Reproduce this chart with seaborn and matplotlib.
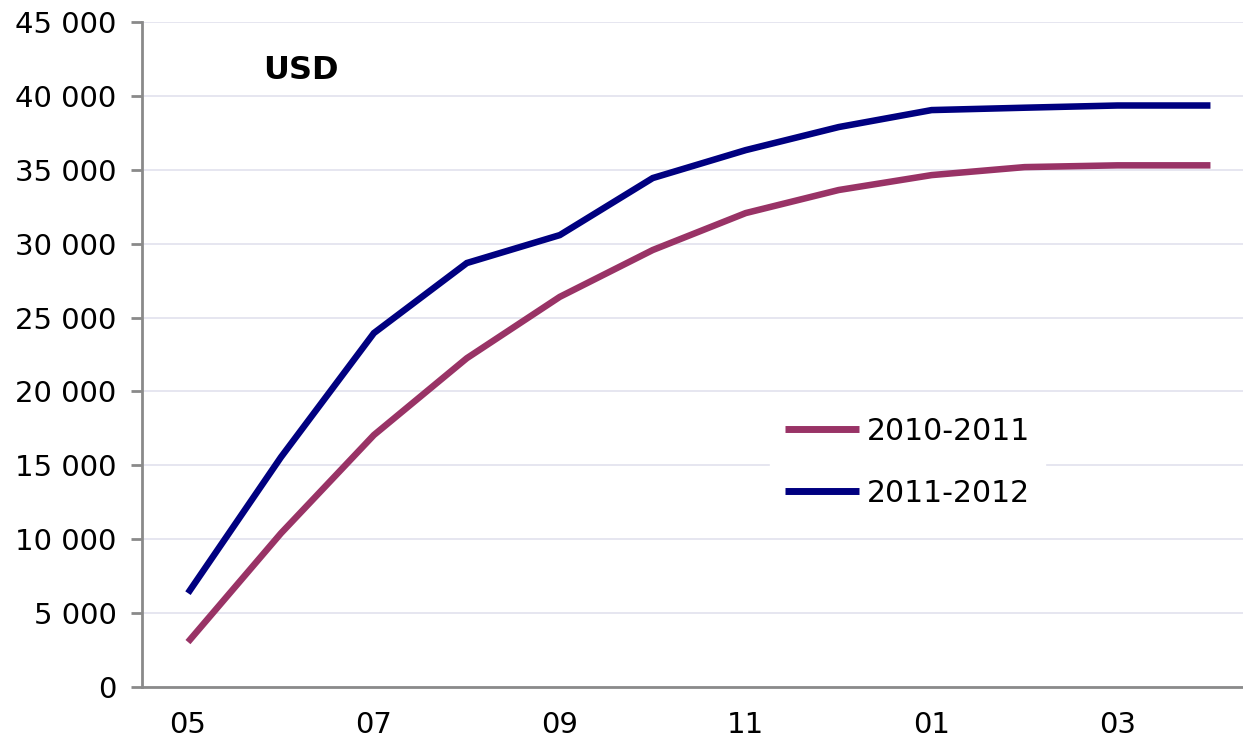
import numpy as np
import pandas as pd
import seaborn as sns
import matplotlib
matplotlib.use("Agg")
import matplotlib.pyplot as plt
from matplotlib.ticker import FuncFormatter, FixedLocator

# months of the fiscal year, May .. April
months = ["05", "06", "07", "08", "09", "10", "11", "12", "01", "02", "03", "04"]
tick_labels = ["05", "07", "09", "11", "01", "03"]

s2010 = [3040, 10400, 17050, 22250, 26400, 29570, 32070, 33630, 34640, 35180, 35300, 35300]
s2011 = [6350, 15550, 23950, 28690, 30580, 34440, 36330, 37890, 39040, 39200, 39350, 39350]

series_names = ["2010-2011", "2011-2012"]
colors = ["#993366", "#000080"]

df = pd.DataFrame({
    "pos": list(range(len(months))) * 2,
    "value": s2010 + s2011,
    "series": [series_names[0]] * len(months) + [series_names[1]] * len(months),
})

sns.set_style("white")
plt.rcParams['font.family'] = ['DejaVu Sans']
plt.rcParams['text.color'] = 'black'
plt.rcParams['xtick.labelcolor'] = 'black'
plt.rcParams['ytick.labelcolor'] = 'black'

fig = plt.figure(figsize=(12.43, 7.43), dpi=100)
ax = fig.add_axes([141.5 / 1243, 56 / 743, 1 - 141.5 / 1243, 665 / 743])

sns.lineplot(data=df, x="pos", y="value", hue="series", palette=colors,
             linewidth=4.7, ax=ax, legend=True)
for ln in ax.lines:
    ln.set_solid_capstyle("butt")
    ln.set_solid_joinstyle("miter")

ax.set_xlim(-0.5, 11.35)
ax.set_ylim(0, 45000)
ax.set_yticks(np.arange(0, 45001, 5000))
ax.yaxis.set_major_formatter(FuncFormatter(lambda v, p: f"{int(v):,}".replace(",", " ")))
ax.grid(axis="y", color="#e2e2ee", linewidth=1.2)
ax.set_axisbelow(True)

ax.set_xticks(range(0, 12, 2))
ax.set_xticklabels(tick_labels)
ax.xaxis.set_minor_locator(FixedLocator([-0.5, 1.5, 3.5, 5.5, 7.5, 9.5]))
ax.tick_params(axis="x", which="major", length=0, pad=17, labelsize=21, labelcolor="black")
ax.tick_params(axis="x", which="minor", length=7, width=2, color="#8a8a8a", direction="out")
ax.tick_params(axis="y", length=8, width=2, color="#8a8a8a", direction="out", pad=10,
               labelsize=21, left=True, labelcolor="black")
ax.set_xlabel("")
ax.set_ylabel("")

for side in ["top", "right"]:
    ax.spines[side].set_visible(False)
for side in ["left", "bottom"]:
    ax.spines[side].set_color("#8a8a8a")
    ax.spines[side].set_linewidth(2)

ax.text(0.11, 0.927, "USD", transform=ax.transAxes, fontsize=23, fontweight="bold",
        va="center", ha="left", color="black")

leg = ax.legend(loc="center left", bbox_to_anchor=(0.571, 0.338), frameon=True,
                fontsize=21.5, handlelength=2.45, handletextpad=0.28, labelspacing=1.1,
                borderpad=0.5, borderaxespad=0, fancybox=False)
leg.get_frame().set_facecolor("white")
leg.get_frame().set_edgecolor("white")
leg.get_frame().set_alpha(1)
for t in leg.get_texts():
    t.set_color("black")
for h in leg.get_lines():
    h.set_linewidth(5)
    h.set_solid_capstyle("butt")

fig.savefig("out.png", dpi=100)
